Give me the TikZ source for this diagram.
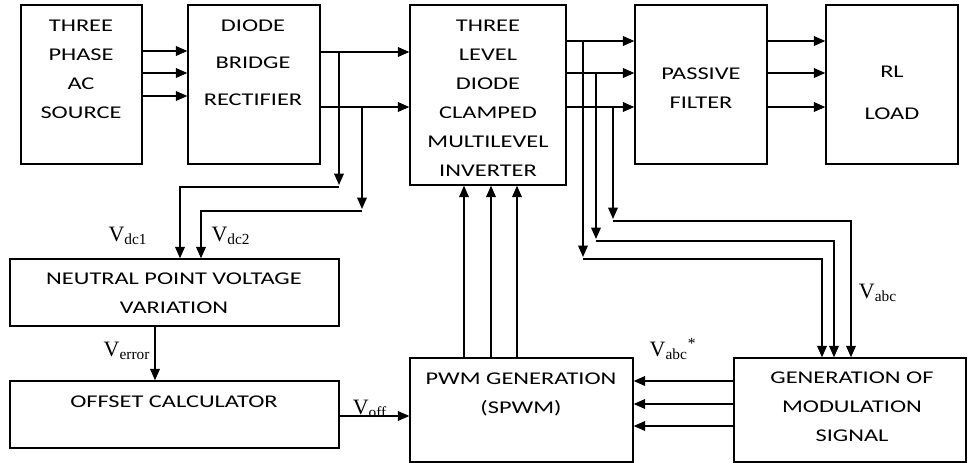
\documentclass[tikz,border=0pt]{standalone}
\usepackage{fontspec}
\setmainfont{Liberation Serif}
\newfontfamily\blkfont[FakeStretch=1.36]{Carlito}
\usetikzlibrary{arrows.meta}

\begin{document}
\begin{tikzpicture}[
    x=0.02cm, y=-0.02cm,
    >={Triangle[length=6.5pt, width=5.5pt]},
    blk/.style={draw, line width=0.8pt, inner sep=0pt},
    blktxt/.style={font=\blkfont\fontsize{10.2}{16.5}\selectfont, align=center, inner sep=0pt},
    sig/.style={font=\fontsize{12.5}{14}\selectfont, inner sep=0pt},
    wire/.style={line width=0.8pt},
]
    \useasboundingbox (0,0) rectangle (968,463);

    \node[blk, minimum width=2.42cm, minimum height=3.18cm] (src) at (81.5,84.5) {};
    \node[blktxt] (srctxt) at (81,69) {THREE\\PHASE\\AC\\SOURCE};
    \node[blk, minimum width=2.64cm, minimum height=3.18cm] (rect) at (254,84.5) {};
    \node[blktxt] (recttxt) at (253,62.5) {DIODE\\[4.7pt]BRIDGE\\[4.7pt]RECTIFIER};
    \node[blk, minimum width=3.12cm, minimum height=3.6cm] (inv) at (488,95) {};
    \node[blktxt] (invtxt) at (488,98) {THREE\\LEVEL\\DIODE\\CLAMPED\\MULTILEVEL\\INVERTER};
    \node[blk, minimum width=2.64cm, minimum height=3.18cm] (filt) at (701,84.5) {};
    \node[blktxt] (filttxt) at (701,88) {PASSIVE\\FILTER};
    \node[blk, minimum width=2.64cm, minimum height=3.18cm] (load) at (892,84.5) {};
    \node[blktxt] (loadtxt) at (892,93) {RL\\[7.3pt]LOAD};
    \node[blk, minimum width=6.58cm, minimum height=1.34cm] (npv) at (174.5,292.5) {};
    \node[blktxt] (npvtxt) at (174,293) {NEUTRAL POINT VOLTAGE\\VARIATION};
    \node[blk, minimum width=6.58cm, minimum height=1.34cm] (off) at (174.5,414.5) {};
    \node[blktxt] (offtxt) at (174,402) {OFFSET CALCULATOR};
    \node[blk, minimum width=4.46cm, minimum height=2.08cm] (pwm) at (521.5,410) {};
    \node[blktxt] (pwmtxt) at (521,394) {PWM GENERATION\\(SPWM)};
    \node[blk, minimum width=4.64cm, minimum height=2.08cm] (gen) at (850,410) {};
    \node[blktxt] (gentxt) at (852,407) {GENERATION OF\\MODULATION\\SIGNAL};

    \foreach \y in {51,73,96}
        \draw[wire, ->] (src.east |- 0,\y) -- (rect.west |- 0,\y);
    \foreach \y in {52,107}
        \draw[wire, ->] (rect.east |- 0,\y) -- (inv.west |- 0,\y);
    \foreach \y in {41,73,107} {
        \draw[wire, ->] (inv.east |- 0,\y) -- (filt.west |- 0,\y);
        \draw[wire, ->] (filt.east |- 0,\y) -- (load.west |- 0,\y);
    }

    \draw[wire, ->] (339,52) -- (339,185);
    \draw[wire, ->] (339,187) -- (180,187) -- (npv.north -| 180,0);
    \draw[wire, ->] (362,107) -- (362,209);
    \draw[wire, ->] (362,211) -- (201,211) -- (npv.north -| 201,0);
    \node[sig] (vdc1) at (128,236) {V\textsubscript{dc1}};
    \node[sig] (vdc2) at (231,236) {V\textsubscript{dc2}};

    \draw[wire, ->] (npv.south -| 155,0) -- (off.north -| 155,0);
    \node[sig] (verr) at (127,351) {V\textsubscript{error}};
    \draw[wire, ->] (off.east |- 0,416) -- (pwm.west |- 0,416);
    \node[sig] (voff) at (370,409) {V\textsubscript{off}};

    \foreach \x in {464,491,517}
        \draw[wire, ->] (pwm.north -| \x,0) -- (inv.south -| \x,0);

    \foreach \x/\y/\t/\g in {583/41/259/822, 596/73/241/834, 613/107/221/851} {
        \draw[wire, ->] (\x,\y) -- (\x,\t-2);
        \draw[wire, ->] (\x,\t) -- (\g,\t) -- (gen.north -| \g,0);
    }
    \node[sig] (vabc) at (878,293) {V\textsubscript{abc}};

    \foreach \y in {381,404,426}
        \draw[wire, ->] (gen.west |- 0,\y) -- (pwm.east |- 0,\y);
    \node[sig] (vabcs) at (673,349) {V\textsubscript{abc}\textsuperscript{*}};
\end{tikzpicture}
\end{document}
